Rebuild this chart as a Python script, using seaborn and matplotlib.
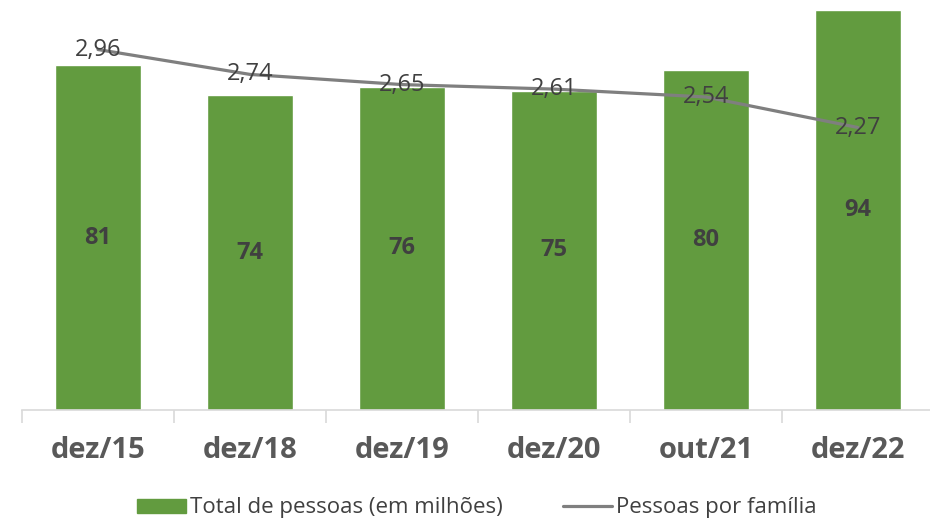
import matplotlib
matplotlib.use("Agg")
import matplotlib.pyplot as plt
from matplotlib.patches import Patch
from matplotlib.lines import Line2D
import seaborn as sns
import pandas as pd

periodos = ["dez/15", "dez/18", "dez/19", "dez/20", "out/21", "dez/22"]
total_pessoas = [81, 74, 76, 75, 80, 94]
pessoas_familia = [2.96, 2.74, 2.65, 2.61, 2.54, 2.27]

df = pd.DataFrame({"periodo": periodos, "total": total_pessoas, "media": pessoas_familia})

sns.set_style("white")
plt.rcParams['font.family'] = ['Open Sans', 'DejaVu Sans']

verde = "#629b3f"
cinza = "#7f7f7f"

fig = plt.figure(figsize=(9.3, 5.2), dpi=100)
ax = fig.add_axes([22 / 930, 110 / 520, 912 / 930, 400 / 520])

sns.barplot(data=df, x="periodo", y="total", color=verde, width=0.565,
            saturation=1, ax=ax)
ax.set_xlim(-0.5, 5.5)
ax.set_ylim(0, 94)
for i, v in enumerate(total_pessoas):
    ax.text(i, v / 2, str(v), ha="center", va="center", fontsize=17,
            fontweight="bold", color="#404040")

ax.set_xlabel("")
ax.set_ylabel("")
ax.set_yticks([])
for s in ["top", "right", "left"]:
    ax.spines[s].set_visible(False)
ax.spines["bottom"].set_color("#d9d9d9")
ax.spines["bottom"].set_linewidth(1.2)
ax.set_xticks([i - 0.5 for i in range(7)], minor=True)
ax.tick_params(axis="x", which="minor", length=9, color="#d9d9d9", width=1.2, bottom=True)
ax.tick_params(axis="x", which="major", length=0, pad=19)
for lbl in ax.get_xticklabels():
    lbl.set_fontsize(21)
    lbl.set_fontweight("bold")
    lbl.set_color("#595959")

ax2 = ax.twinx()
sns.lineplot(data=df, x="periodo", y="media", color=cinza, linewidth=2.3,
             sort=False, ax=ax2)
ax2.set_ylim(-0.23, 3.31)
ax2.set_yticks([])
ax2.set_ylabel("")
for s in ["top", "right", "left", "bottom"]:
    ax2.spines[s].set_visible(False)
for i, v in enumerate(pessoas_familia):
    ax2.text(i, v, f"{v:.2f}".replace(".", ","), ha="center", va="center",
             fontsize=17, color="#404040")

handles = [Patch(facecolor=verde, edgecolor=verde),
           Line2D([0], [0], color=cinza, linewidth=2.3)]
fig.legend(handles, ["Total de pessoas (em milhões)", "Pessoas por família"],
           loc="center", bbox_to_anchor=(477 / 930, 12 / 520), ncol=2, frameon=False,
           fontsize=16, labelcolor="#404040", handlelength=2.2, handleheight=0.6,
           handletextpad=0.2, columnspacing=2.7)

fig.savefig("out.png", dpi=100)
